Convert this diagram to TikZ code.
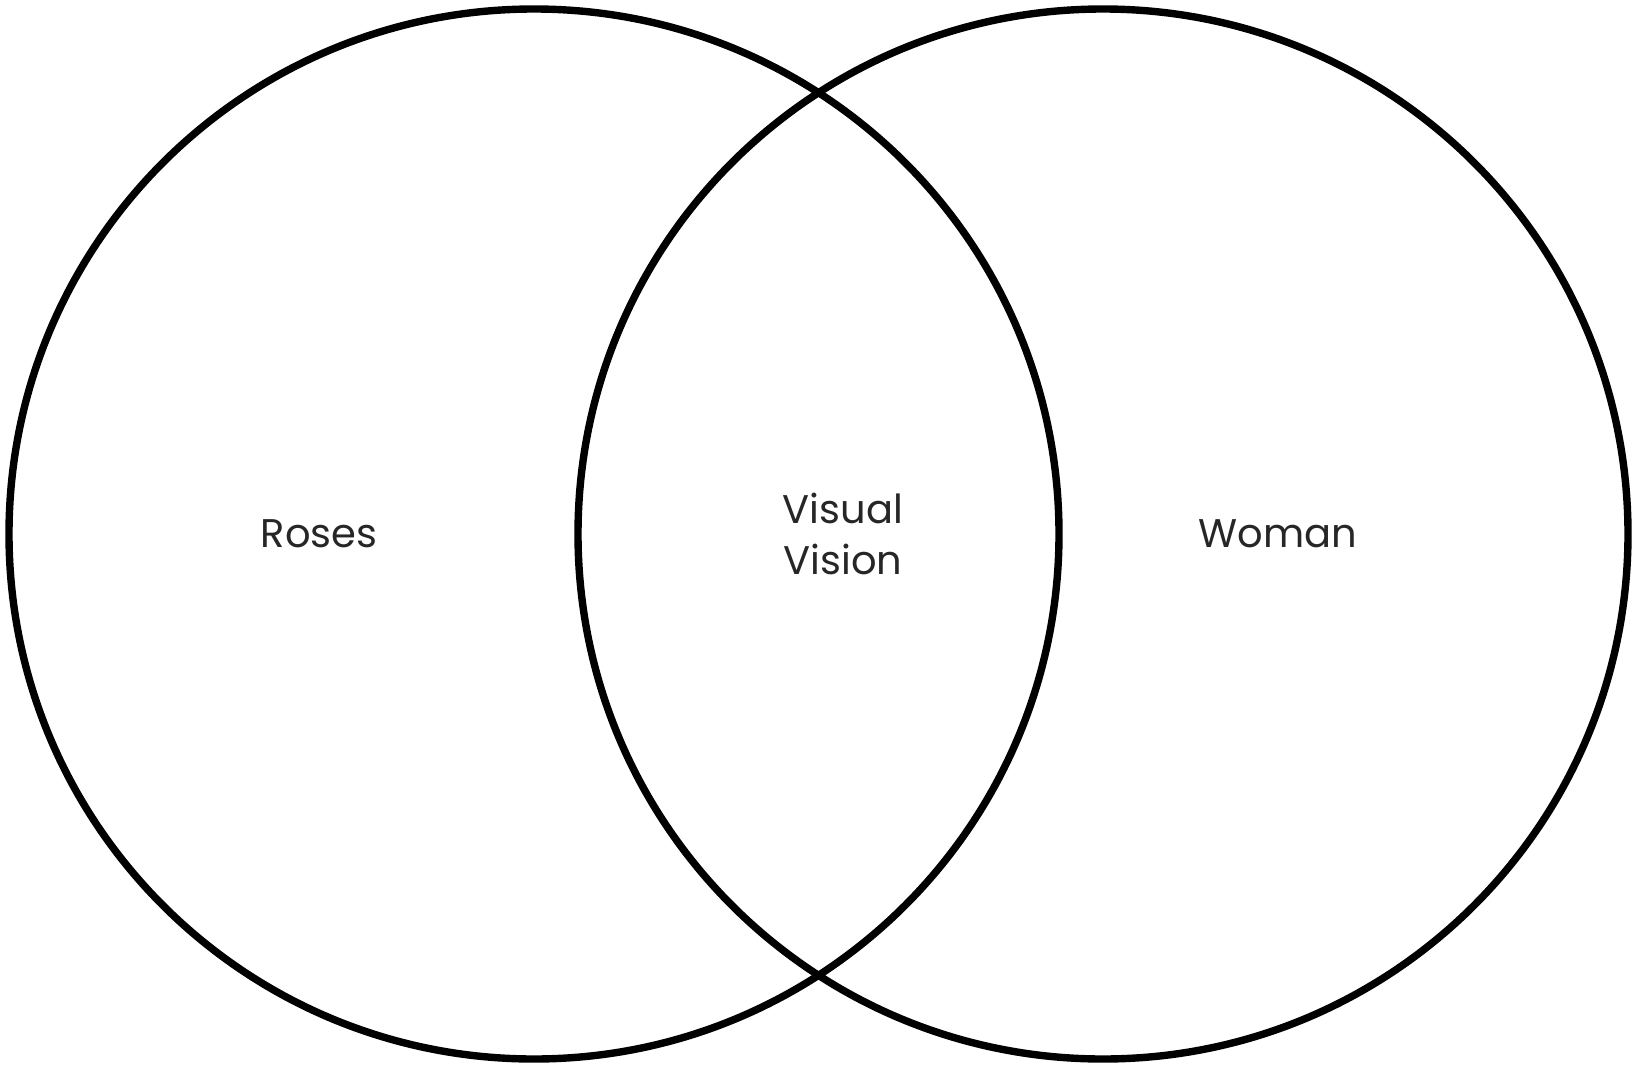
\documentclass[tikz,border=0pt]{standalone}
\usepackage{fontspec}
\setmainfont{Poppins}
\usepackage{tikz}
\usetikzlibrary{positioning}

\tikzset{
  setring/.style={line width=3.7pt, black},
  setlabel/.style={font=\fontsize{20}{25.5}\selectfont, text=black!85, inner sep=0pt}
}

\begin{document}
\begin{tikzpicture}[x=0.5pt, y=-0.5pt]
    \useasboundingbox (0,0) rectangle (1633,1066);
    % centres of the two sets
    \coordinate (rosesc) at (534,534);
    \coordinate (womanc) at (1103,534);
    % the two circles
    \draw[setring] (rosesc) circle (525);
    \draw[setring] (womanc) circle (525);
    % labels
    \node[setlabel] (roses) at (319,534) {Roses};
    \node[setlabel] (woman) at (1278,534) {Woman};
    \node[setlabel, align=center] (both) at (843,534) {Visual\\Vision};
  \end{tikzpicture}
\end{document}
